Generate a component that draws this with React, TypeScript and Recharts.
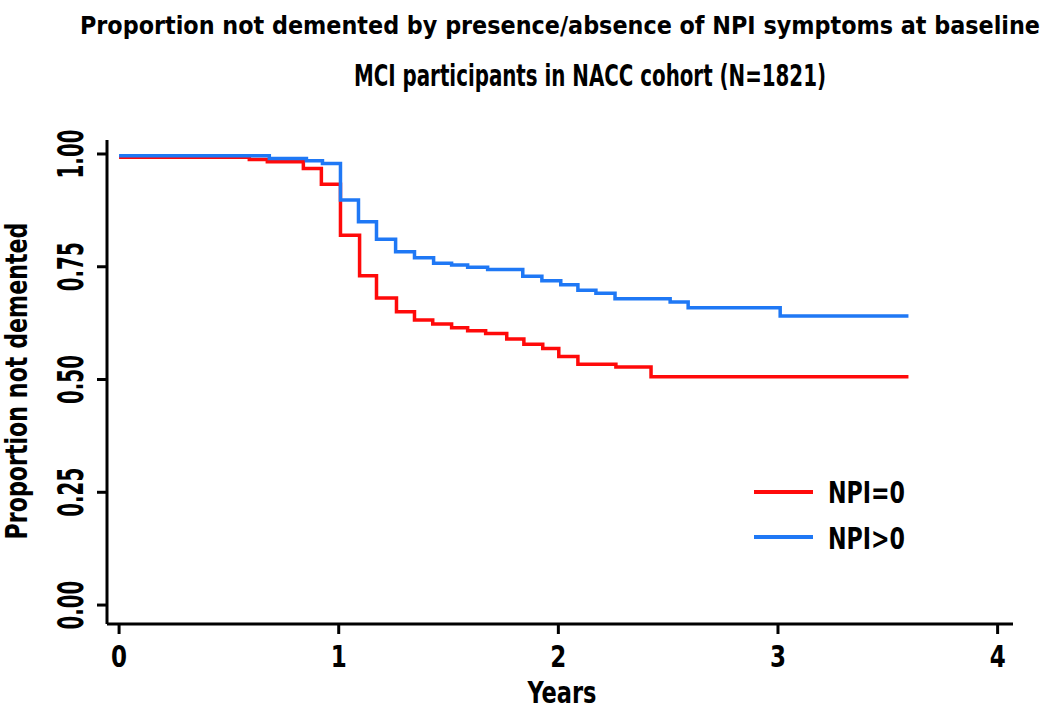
import React from "react";
import { Label, Legend, Line, LineChart, XAxis, YAxis } from "recharts";

// Kaplan-Meier step curves
const npi0Years = [0, 0.593, 0.675, 0.839, 0.921, 1.008, 1.095, 1.172, 1.263, 1.345, 1.428, 1.514, 1.587, 1.669, 1.765, 1.843, 1.929, 2.002, 2.089, 2.262, 2.422, 3.594];
const npi0Surv = [0.993, 0.988, 0.983, 0.968, 0.933, 0.82, 0.73, 0.681, 0.65, 0.632, 0.623, 0.615, 0.608, 0.602, 0.59, 0.578, 0.569, 0.551, 0.534, 0.528, 0.506, 0.506];

const npiPosYears = [0, 0.684, 0.853, 0.926, 1.008, 1.09, 1.172, 1.259, 1.345, 1.432, 1.514, 1.587, 1.678, 1.838, 1.925, 2.011, 2.089, 2.171, 2.258, 2.509, 2.591, 3.01, 3.594];
const npiPosSurv = [0.996, 0.99, 0.985, 0.979, 0.898, 0.85, 0.811, 0.783, 0.77, 0.758, 0.754, 0.749, 0.744, 0.729, 0.719, 0.71, 0.698, 0.691, 0.679, 0.672, 0.659, 0.641, 0.641];

const xTicks = [0, 1, 2, 3, 4];
const yTicks = [0, 0.25, 0.5, 0.75, 1];

const title1 = "Proportion not demented by presence/absence of NPI symptoms at baseline";
const title2 = "MCI participants in NACC cohort (N=1821)";

const npi0Data = npi0Years.map((t, i) => ({ t, s: npi0Surv[i] }));
const npiPosData = npiPosYears.map((t, i) => ({ t, s: npiPosSurv[i] }));

const FONT = "'Liberation Sans Narrow', 'DejaVu Sans Condensed', 'Roboto', sans-serif";
const RED = "#ff0a0a";
const BLUE = "#1f78f5";

const XTick = (props: any) => {
  const { x, payload } = props;
  return (
    <text
      x={x}
      y={667}
      textAnchor="middle"
      fontFamily={FONT}
      fontWeight="bold"
      fontSize={31}
      fill="#000"
      textLength={16}
      lengthAdjust="spacingAndGlyphs"
    >
      {payload.value}
    </text>
  );
};

const YTick = (props: any) => {
  const { y, payload } = props;
  return (
    <text
      transform={`translate(83, ${y}) rotate(-90)`}
      textAnchor="middle"
      fontFamily={FONT}
      fontWeight="bold"
      fontSize={35}
      fill="#000"
      textLength={49}
      lengthAdjust="spacingAndGlyphs"
    >
      {Number(payload.value).toFixed(2)}
    </text>
  );
};

const renderLegend = (props: any) => {
  const { payload } = props;
  return (
    <svg width={200} height={90}>
      {payload.map((p: any, i: number) => (
        <g key={p.value}>
          <line x1={14} x2={73} y1={22 + i * 45} y2={22 + i * 45} stroke={p.color} strokeWidth={4} />
          <text
            x={88}
            y={33 + i * 46}
            fontFamily={FONT}
            fontWeight="bold"
            fontSize={31}
            fill="#000"
            textLength={77}
            lengthAdjust="spacingAndGlyphs"
          >
            {p.value}
          </text>
        </g>
      ))}
    </svg>
  );
};

export default function App() {
  return (
    <div style={{ position: "absolute", left: 0, top: 0, width: 1050, height: 709, background: "#fff" }}>
      <svg width={1050} height={110} style={{ position: "absolute", left: 0, top: 0 }}>
        <text x={560} y={34} textAnchor="middle" fontFamily={FONT} fontWeight="bold" fontSize={25} textLength={960} lengthAdjust="spacingAndGlyphs">
          {title1}
        </text>
        <text x={590} y={86} textAnchor="middle" fontFamily={FONT} fontWeight="bold" fontSize={31} textLength={472} lengthAdjust="spacingAndGlyphs">
          {title2}
        </text>
      </svg>
      <LineChart width={1050} height={709} margin={{ top: 140, right: 37, bottom: 0, left: 0 }}>
        <XAxis
          type="number"
          dataKey="t"
          domain={[-0.055, 4.07]}
          allowDataOverflow
          ticks={xTicks}
          tick={XTick}
          tickSize={10}
          height={85}
          axisLine={{ stroke: "#000", strokeWidth: 3 }}
          tickLine={{ stroke: "#000", strokeWidth: 3 }}
        >
          <Label
            content={() => (
              <text x={562} y={703} textAnchor="middle" fontFamily={FONT} fontWeight="bold" fontSize={30} textLength={69} lengthAdjust="spacingAndGlyphs">
                Years
              </text>
            )}
          />
        </XAxis>
        <YAxis
          type="number"
          dataKey="s"
          domain={[-0.042, 1.031]}
          allowDataOverflow
          ticks={yTicks}
          tick={YTick}
          tickSize={10}
          width={107}
          axisLine={{ stroke: "#000", strokeWidth: 3 }}
          tickLine={{ stroke: "#000", strokeWidth: 3 }}
        >
          <Label
            content={() => (
              <text
                transform="translate(27, 381) rotate(-90)"
                textAnchor="middle"
                fontFamily={FONT}
                fontWeight="bold"
                fontSize={30}
                textLength={317}
                lengthAdjust="spacingAndGlyphs"
              >
                Proportion not demented
              </text>
            )}
          />
        </YAxis>
        <Legend
          layout="vertical"
          align="center"
          verticalAlign="middle"
          content={renderLegend}
          wrapperStyle={{ left: 740, top: 470, width: 200, height: 90 }}
        />
        <Line
          data={npi0Data}
          dataKey="s"
          name="NPI=0"
          type="stepAfter"
          stroke={RED}
          strokeWidth={3.5}
          dot={false}
          isAnimationActive={false}
        />
        <Line
          data={npiPosData}
          dataKey="s"
          name="NPI>0"
          type="stepAfter"
          stroke={BLUE}
          strokeWidth={3.5}
          dot={false}
          isAnimationActive={false}
        />
      </LineChart>
    </div>
  );
}
